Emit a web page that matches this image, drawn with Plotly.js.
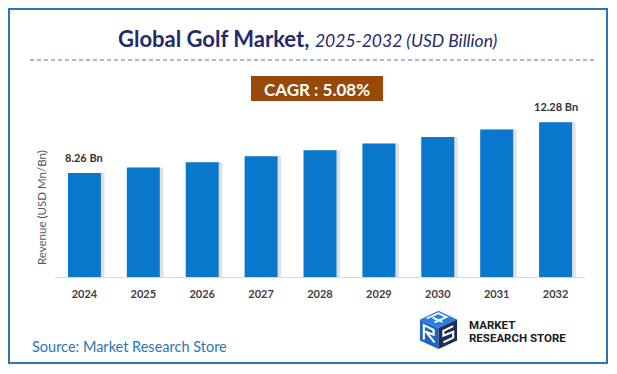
<!DOCTYPE html>
<html>
<head>
<meta charset="utf-8">
<script src="https://cdn.plot.ly/plotly-3.0.1.min.js"></script>
<style>html,body{margin:0;padding:0;background:#fff;}#chart{width:617px;height:374px;}</style>
</head>
<body>
<div id="chart"></div>
<script>
// ---- data ----
const years = ["2024", "2025", "2026", "2027", "2028", "2029", "2030", "2031", "2032"];
const revenue = [8.26, 8.68, 9.10, 9.58, 10.06, 10.60, 11.11, 11.70, 12.28];
const labelUnit = " Bn";
const cagrText = "CAGR : 5.08%";
const titleMain = "Global Golf Market,";
const titleSub = "2025-2032 (USD Billion)";
const yTitle = "Revenue (USD Mn/Bn)";
const sourceText = "Source: Market Research Store";

// ---- helpers: pixel -> paper (margins are zero, so paper = whole figure) ----
const W = 617, H = 374;
const px = x => x / W;
const py = y => 1 - y / H;

const FONT = "Lato, 'Open Sans', sans-serif";

const shadow = {
  type: "bar", x: years, y: revenue,
  width: 0.56, offset: -0.22,
  marker: { color: "rgba(90,90,90,0.18)" },
  hoverinfo: "skip", showlegend: false
};
const bars = {
  type: "bar", x: years, y: revenue,
  width: 0.56, offset: -0.28,
  marker: { color: "#0877CC" },
  showlegend: false
};

const last = years.length - 1;
const annotations = [
  { x: 0, y: revenue[0], xref: "x", yref: "y", yanchor: "bottom", yshift: 7,
    text: "<b>" + revenue[0].toFixed(2) + labelUnit + "</b>", showarrow: false,
    font: { family: FONT, size: 11, color: "#333333" } },
  { x: last, y: revenue[last], xref: "x", yref: "y", yanchor: "bottom", yshift: 7,
    text: "<b>" + revenue[last].toFixed(2) + labelUnit + "</b>", showarrow: false,
    font: { family: FONT, size: 11, color: "#333333" } },
  { x: px(307), y: py(39), xref: "paper", yref: "paper", xanchor: "center", yanchor: "middle",
    text: "<b>" + titleMain + "</b> <i><span style='font-size:17.5px'>" + titleSub + "</span></i>",
    showarrow: false, font: { family: FONT, size: 22, color: "#1F2B6C" } },
  { x: px(317), y: py(89), xref: "paper", yref: "paper", xanchor: "center", yanchor: "middle",
    text: "<b>" + cagrText + "</b>", showarrow: false,
    font: { family: FONT, size: 17, color: "#ffffff" } },
  { x: px(41), y: py(208), xref: "paper", yref: "paper", xanchor: "center", yanchor: "middle",
    text: yTitle, textangle: -90, showarrow: false,
    font: { family: FONT, size: 11.5, color: "#595959" } },
  { x: px(30), y: py(346), xref: "paper", yref: "paper", xanchor: "left", yanchor: "middle",
    text: sourceText, showarrow: false,
    font: { family: FONT, size: 14.5, color: "#2E75B6" } },
  { x: px(467), y: py(325), xref: "paper", yref: "paper", xanchor: "left", yanchor: "middle",
    text: "<b>MARKET</b>", showarrow: false,
    font: { family: "'Liberation Sans Narrow', Roboto, sans-serif", size: 11.5, color: "#1a1a1a" } },
  { x: px(467), y: py(338), xref: "paper", yref: "paper", xanchor: "left", yanchor: "middle",
    text: "<b>RESEARCH STORE</b>", showarrow: false,
    font: { family: "'Liberation Sans Narrow', Roboto, sans-serif", size: 11.5, color: "#1a1a1a" } }
];

const shapes = [
  { type: "rect", xref: "paper", yref: "paper", x0: px(9), x1: px(607), y0: py(363), y1: py(9),
    line: { color: "#2E75B6", width: 2 }, fillcolor: "rgba(0,0,0,0)", layer: "below" },
  { type: "line", xref: "paper", yref: "paper", x0: px(30), x1: px(597), y0: py(60), y1: py(60),
    line: { color: "#4472C4", width: 1, dash: "4px,3px" } },
  { type: "rect", xref: "paper", yref: "paper", x0: px(251), x1: px(383), y0: py(101), y1: py(76),
    line: { width: 0 }, fillcolor: "#984807", layer: "below" }
];

const logoSvg =
  "<svg xmlns='http://www.w3.org/2000/svg' viewBox='0 0 44 44'>" +
  "<polygon points='3,12 22,3 41,12 22,21' fill='#2B7FE3'/>" +
  "<polygon points='3,12 22,21 22,43 3,34' fill='#1B65C8'/>" +
  "<polygon points='22,21 41,12 41,34 22,43' fill='#1C2F55'/>" +
  "<polyline points='10,11 22,5.5 30,9.5 18,15' fill='none' stroke='#fff' stroke-width='2'/>" +
  "<polyline points='16,10 26,14.5' fill='none' stroke='#fff' stroke-width='2'/>" +
  "<path d='M7,33 L7,18 L17,23 L17,28 L7,24 M10,26 L18,36' fill='none' stroke='#fff' stroke-width='2.2'/>" +
  "<polyline points='37,19 27,24 27,29 37,25 37,31 27,36' fill='none' stroke='#fff' stroke-width='2.2'/>" +
  "</svg>";

const layout = {
  width: W, height: H,
  margin: { l: 0, r: 0, t: 0, b: 0 },
  paper_bgcolor: "#ffffff", plot_bgcolor: "#ffffff",
  barmode: "overlay",
  showlegend: false,
  font: { family: FONT },
  xaxis: {
    domain: [px(55), px(585)],
    type: "category",
    range: [-0.5, years.length - 0.5],
    autorange: false,
    showline: true, linecolor: "#D9D9D9", linewidth: 1,
    showgrid: false, zeroline: false,
    ticks: "outside", ticklen: 7, tickcolor: "rgba(0,0,0,0)",
    tickfont: { family: FONT, size: 11, color: "#404040", weight: "bold" },
    fixedrange: true
  },
  yaxis: {
    domain: [py(277), py(110)],
    range: [0, 13.25],
    autorange: false,
    showticklabels: false, showgrid: false, zeroline: false, showline: false,
    ticks: "", fixedrange: true
  },
  annotations: annotations,
  shapes: shapes,
  images: [{
    source: "data:image/svg+xml;utf8," + encodeURIComponent(logoSvg),
    xref: "paper", yref: "paper", x: px(417), y: py(308),
    sizex: 43 / W, sizey: 42 / H, sizing: "stretch",
    xanchor: "left", yanchor: "top", layer: "above"
  }]
};

Plotly.newPlot("chart", [shadow, bars], layout, { displayModeBar: false, staticPlot: true });
</script>
</body>
</html>
